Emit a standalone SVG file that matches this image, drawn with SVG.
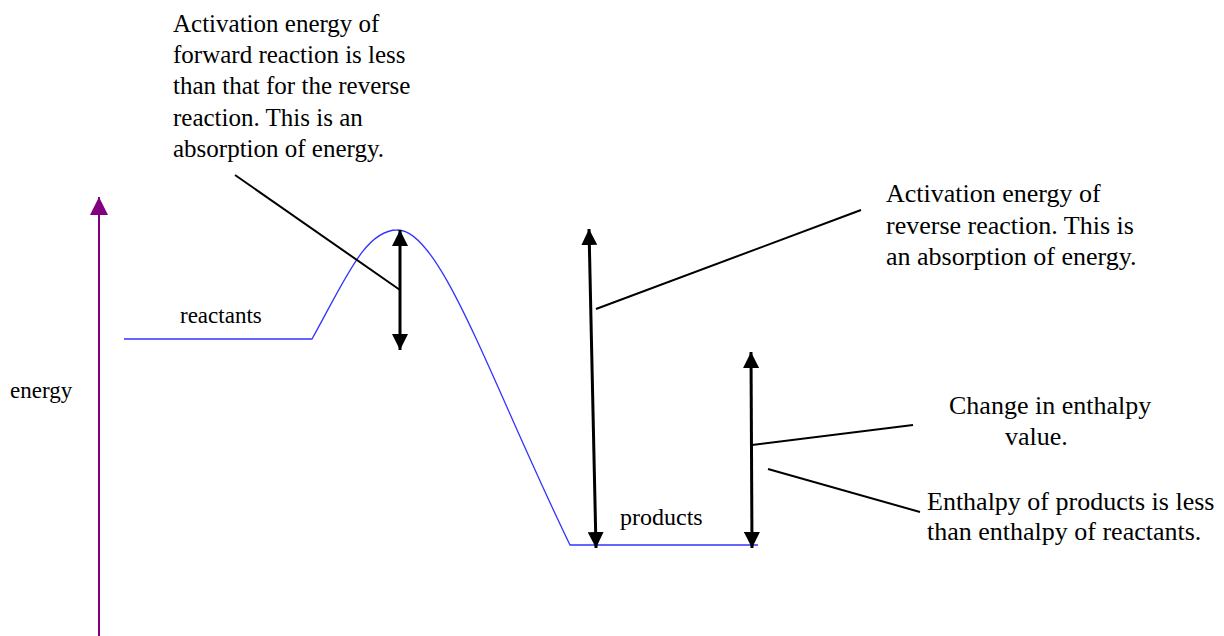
<svg xmlns="http://www.w3.org/2000/svg" width="1224" height="636" viewBox="0 0 1224 636">
<style>
.t{font-family:"Liberation Serif","Times New Roman",serif;font-size:26px;fill:#000}
.tl{font-family:"Liberation Serif","Times New Roman",serif;font-size:25px;fill:#000}
.l{font-family:"Liberation Serif","Times New Roman",serif;font-size:23px;fill:#000}
.arr{stroke:#000;stroke-width:3;fill:none;marker-start:url(#ah);marker-end:url(#ah)}
.lead{stroke:#000;stroke-width:2;fill:none}
.curve{stroke:#3333ff;stroke-width:1.3;fill:none}
</style>
<defs>
<marker id="ah" markerUnits="userSpaceOnUse" viewBox="0 0 16 16" refX="16" refY="8" markerWidth="16" markerHeight="16" orient="auto-start-reverse">
<path d="M0,0 L16,8 L0,16 Z" fill="#000"/>
</marker>
<marker id="ap" markerUnits="userSpaceOnUse" viewBox="0 0 18 18" refX="18" refY="9" markerWidth="18" markerHeight="18" orient="auto">
<path d="M0,0 L18,9 L0,18 Z" fill="#800080"/>
</marker>
</defs>
<rect width="1224" height="636" fill="#fff"/>
<g id="axis">
<line x1="99" y1="636" x2="99" y2="197" stroke="#800080" stroke-width="2" marker-end="url(#ap)"/>
<text class="l" x="10" y="398">energy</text>
</g>
<g id="profile">
<path class="curve" d="M124,339 L312,339 C345,280 365,230 397,230 C440,228 490,380 570,545 L758,545"/>
<text class="l" x="180" y="323">reactants</text>
<text class="l" x="620" y="525" style="font-size:24px">products</text>
</g>
<g id="connectors">
<line class="arr" x1="400" y1="230" x2="400" y2="350"/>
<line class="arr" x1="589" y1="229" x2="596" y2="548"/>
<line class="arr" x1="751" y1="352" x2="752" y2="548"/>
<line class="lead" x1="235" y1="175" x2="400" y2="290"/>
<line class="lead" x1="596" y1="309" x2="861" y2="210"/>
<line class="lead" x1="752" y1="445" x2="913" y2="425"/>
<line class="lead" x1="768" y1="469" x2="920" y2="512"/>
</g>
<g id="note-forward">
<text class="tl" x="173" y="32">Activation energy of</text>
<text class="tl" x="173" y="63">forward reaction is less</text>
<text class="tl" x="173" y="94">than that for the reverse</text>
<text class="tl" x="173" y="126">reaction. This is an</text>
<text class="tl" x="173" y="157">absorption of energy.</text>
</g>
<g id="note-reverse">
<text class="t" x="886" y="202">Activation energy of</text>
<text class="t" x="886" y="234">reverse reaction. This is</text>
<text class="t" x="886" y="265">an absorption of energy.</text>
</g>
<g id="note-enthalpy">
<text class="t" x="949" y="414">Change in enthalpy</text>
<text class="t" x="1005" y="445">value.</text>
</g>
<g id="note-products">
<text class="t" x="927" y="510">Enthalpy of products is less</text>
<text class="t" x="927" y="540">than enthalpy of reactants.</text>
</g>
</svg>
